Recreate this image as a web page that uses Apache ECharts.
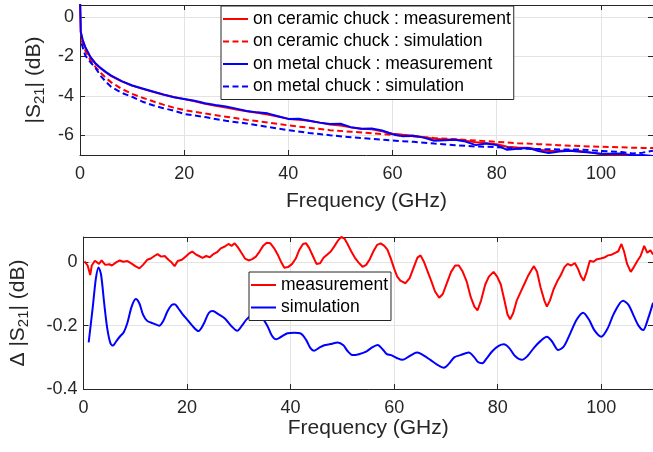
<!DOCTYPE html>
<html>
<head>
<meta charset="utf-8">
<script src="https://cdn.jsdelivr.net/npm/echarts@6/dist/echarts.min.js"></script>
<style>
html,body{margin:0;padding:0;background:#fff;}
#chart{width:653px;height:452px;}
</style>
</head>
<body>
<div id="chart"></div>
<script>
// ---------- data ----------
var seriesNamesTop = ['on ceramic chuck : measurement', 'on ceramic chuck : simulation', 'on metal chuck : measurement', 'on metal chuck : simulation'];
var seriesNamesBottom = ['measurement', 'simulation'];

var measFreq = [0, 0.15, 0.5, 1, 2, 3, 4, 5, 6, 8, 10, 12, 14, 16, 18, 20, 22, 24, 26, 28, 30, 32, 34, 36, 38, 40, 42, 44, 46, 48, 50, 52, 54, 56, 58, 60, 62, 64, 66, 68, 70, 72, 74, 76, 78, 80, 82, 84, 86, 88, 90, 92, 94, 96, 98, 100, 102, 104, 106, 108, 110];
var ceramicMeas = [1.0, -0.8, -1.2, -1.55, -2.05, -2.38, -2.62, -2.82, -3.0, -3.27, -3.48, -3.65, -3.8, -3.95, -4.06, -4.17, -4.28, -4.4, -4.5, -4.6, -4.7, -4.78, -4.86, -4.95, -5.05, -5.17, -5.22, -5.27, -5.36, -5.45, -5.5, -5.6, -5.67, -5.7, -5.8, -5.92, -5.98, -6.03, -6.1, -6.18, -6.22, -6.22, -6.28, -6.36, -6.4, -6.46, -6.58, -6.62, -6.63, -6.72, -6.8, -6.78, -6.77, -6.8, -6.88, -6.95, -6.97, -6.98, -7.0, -7.05, -7.08];
var metalMeas = [1.0, -0.75, -1.15, -1.52, -2.03, -2.37, -2.6, -2.8, -2.98, -3.26, -3.48, -3.63, -3.78, -3.93, -4.07, -4.16, -4.25, -4.38, -4.47, -4.54, -4.65, -4.77, -4.84, -4.89, -5.04, -5.17, -5.16, -5.26, -5.36, -5.43, -5.42, -5.59, -5.67, -5.66, -5.76, -5.95, -6.05, -6.02, -6.12, -6.28, -6.25, -6.23, -6.32, -6.5, -6.42, -6.5, -6.74, -6.68, -6.64, -6.8, -6.9, -6.82, -6.78, -6.83, -6.87, -6.94, -6.94, -6.93, -7.02, -7.0, -7.05];

var simFreq = [0.3, 1, 2, 3, 4, 5, 6, 8, 10, 12, 14, 16, 18, 20, 24, 28, 32, 36, 40, 44, 48, 52, 56, 60, 64, 68, 72, 76, 80, 84, 88, 92, 96, 100, 104, 106, 108, 110];
var ceramicSim = [-1.2, -1.7, -2.2, -2.55, -2.85, -3.1, -3.32, -3.65, -3.9, -4.1, -4.28, -4.45, -4.6, -4.72, -4.9, -5.06, -5.22, -5.35, -5.5, -5.62, -5.74, -5.82, -5.9, -5.98, -6.06, -6.14, -6.2, -6.27, -6.33, -6.4, -6.45, -6.5, -6.55, -6.58, -6.61, -6.63, -6.64, -6.65];
var metalSim = [-1.35, -1.95, -2.3, -2.6, -3.0, -3.3, -3.55, -3.85, -4.05, -4.3, -4.48, -4.63, -4.75, -4.92, -5.08, -5.27, -5.4, -5.58, -5.74, -5.88, -6.0, -6.1, -6.18, -6.27, -6.33, -6.42, -6.5, -6.57, -6.6, -6.68, -6.7, -6.72, -6.72, -6.8, -6.85, -6.92, -6.88, -6.78];

var deltaMeasFreq = [0.2, 0.8, 1.3, 1.6, 2.2, 3, 3.5, 4.2, 5, 5.5, 6.3, 7, 7.7, 8.5, 9.3, 10, 10.8, 11.5, 12.3, 13, 13.7, 14.3, 15, 15.7, 16.4, 17, 17.6, 18.2, 19, 19.7, 20.4, 21, 21.6, 22.3, 23, 23.7, 24.4, 25, 25.8, 26.5, 27.3, 28, 28.6, 29.2, 29.8, 30.5, 31.2, 31.9, 32.6, 33.3, 34, 34.7, 35.4, 36.1, 36.8, 37.5, 38.2, 38.8, 39.5, 40.3, 41, 41.7, 42.4, 43, 43.6, 44.3, 45, 45.7, 46.4, 47.1, 47.8, 48.5, 49.2, 49.8, 50.4, 51, 51.7, 52.4, 53.1, 53.9, 54.6, 55.3, 56, 56.7, 57.4, 58.1, 58.7, 59.3, 60, 60.6, 61.2, 62.2, 63, 63.8, 64.5, 65.1, 65.8, 66.5, 67.2, 67.9, 68.7, 69.4, 70.2, 71, 71.8, 72.5, 73.2, 74, 74.8, 75.5, 76.1, 76.8, 77.6, 78.3, 79.2, 79.9, 80.6, 81.3, 81.9, 82.4, 83, 83.7, 84.4, 85.1, 85.8, 86.5, 87, 87.6, 88.3, 89, 89.5, 90.1, 90.8, 91.5, 92.2, 92.9, 93.5, 94.2, 94.9, 95.5, 96.1, 96.6, 97.2, 97.8, 98.5, 99.2, 99.9, 100.6, 101.3, 102, 102.7, 103.3, 103.9, 104.4, 105, 105.7, 106.3, 107, 107.6, 108.3, 108.9, 109.5, 110];
var deltaMeas = [0.003, -0.01, -0.04, -0.01, 0.005, -0.005, 0.006, -0.008, -0.006, -0.01, 0.0, 0.006, 0.002, 0.004, -0.004, -0.012, -0.019, -0.008, 0.008, 0.012, 0.02, 0.026, 0.018, 0.02, 0.008, 0.0, -0.012, 0.004, 0.008, 0.018, 0.028, 0.034, 0.026, 0.02, 0.014, 0.02, 0.016, 0.025, 0.032, 0.044, 0.05, 0.058, 0.052, 0.06, 0.048, 0.03, 0.012, 0.006, 0.01, 0.018, 0.034, 0.052, 0.062, 0.06, 0.045, 0.025, 0.0, -0.017, -0.015, -0.005, 0.012, 0.04, 0.058, 0.06, 0.045, 0.02, -0.005, -0.003, 0.015, 0.025, 0.035, 0.052, 0.07, 0.08, 0.075, 0.058, 0.035, 0.015, 0.0, -0.014, -0.008, 0.01, 0.035, 0.055, 0.06, 0.052, 0.04, 0.015, -0.02, -0.045, -0.058, -0.066, -0.05, -0.015, 0.015, 0.022, 0.0, -0.03, -0.06, -0.092, -0.112, -0.1, -0.065, -0.03, -0.01, -0.01, -0.028, -0.06, -0.11, -0.14, -0.152, -0.12, -0.07, -0.045, -0.03, -0.045, -0.07, -0.12, -0.165, -0.18, -0.16, -0.12, -0.095, -0.07, -0.045, -0.025, -0.012, -0.03, -0.08, -0.12, -0.14, -0.12, -0.085, -0.06, -0.04, -0.015, -0.005, -0.01, -0.002, -0.02, -0.045, -0.058, -0.03, 0.005, 0.002, 0.01, 0.012, 0.015, 0.022, 0.024, 0.03, 0.035, 0.058, 0.035, -0.005, -0.03, -0.015, 0.005, 0.02, 0.052, 0.03, 0.038, 0.025];

var deltaSimFreq = [1, 1.8, 2.4, 2.9, 3.4, 4.0, 4.6, 5.2, 5.7, 6.3, 7, 7.8, 8.5, 9.3, 10.1, 10.8, 11.5, 12.3, 13, 13.8, 14.6, 15.4, 16.2, 17, 17.6, 18.3, 19.2, 20, 21, 22.2, 23.2, 24.2, 25, 25.9, 27.3, 28.5, 29.7, 30.6, 31.5, 32.4, 33.4, 34.3, 35.5, 36.4, 37.2, 38.2, 39.4, 40.7, 42, 43, 43.8, 44.5, 45.5, 46.5, 47.7, 49.1, 50.2, 51, 52, 53.2, 54.6, 55.6, 56.8, 57.8, 58.6, 59.4, 60.5, 61.6, 62.8, 63.8, 64.5, 65.5, 67, 68.3, 69.6, 70.6, 71.6, 72.8, 74.4, 75.5, 76.2, 77, 77.8, 79, 80.2, 81.2, 82.2, 83.3, 84.7, 85.8, 87, 88.3, 89.5, 90.5, 91.7, 92.8, 94, 95.3, 96.5, 97.6, 98.7, 100, 101.2, 102.5, 104.2, 105.3, 106.3, 107.2, 108.1, 109, 110];
var deltaSim = [-0.253, -0.14, -0.05, -0.016, -0.04, -0.13, -0.21, -0.255, -0.263, -0.25, -0.235, -0.22, -0.19, -0.14, -0.116, -0.13, -0.165, -0.185, -0.19, -0.195, -0.2, -0.185, -0.155, -0.135, -0.132, -0.145, -0.165, -0.18, -0.2, -0.217, -0.195, -0.16, -0.154, -0.162, -0.177, -0.2, -0.216, -0.2, -0.18, -0.169, -0.168, -0.172, -0.2, -0.232, -0.243, -0.235, -0.224, -0.222, -0.225, -0.245, -0.27, -0.279, -0.27, -0.262, -0.258, -0.253, -0.262, -0.28, -0.293, -0.29, -0.282, -0.27, -0.261, -0.275, -0.29, -0.293, -0.302, -0.308, -0.298, -0.288, -0.285, -0.292, -0.308, -0.323, -0.333, -0.32, -0.3, -0.293, -0.285, -0.3, -0.315, -0.319, -0.305, -0.28, -0.264, -0.259, -0.27, -0.295, -0.308, -0.295, -0.27, -0.248, -0.235, -0.25, -0.277, -0.265, -0.225, -0.18, -0.159, -0.18, -0.215, -0.235, -0.21, -0.16, -0.121, -0.135, -0.17, -0.2, -0.214, -0.18, -0.128];

var xRange = [0, 110];
var topYRange = [-7, 0.6];
var bottomYRange = [-0.4, 0.08];

// ---------- helpers ----------
function pairs(xs, ys) { return xs.map(function (x, i) { return [x, ys[i]]; }); }
var FONT = "'Liberation Sans', Arial, Helvetica, sans-serif";
var INK = '#262626';
var GRIDC = '#e3e3e3';
var ICON_SOLID = 'path://M0,0H25V2H0Z';
var ICON_DASH = 'path://M0,0H6V2H0Z M9.5,0H15.5V2H9.5Z M19,0H25V2H19Z';

function mainX(gi, gap) {
  return {
    type: 'value', gridIndex: gi, min: xRange[0], max: xRange[1], interval: 20,
    position: 'bottom',
    name: 'Frequency (GHz)', nameLocation: 'middle', nameGap: gap,
    nameTextStyle: { fontFamily: FONT, fontSize: 21, color: INK },
    axisLine: { show: true, onZero: false, lineStyle: { color: INK, width: 1 } },
    axisTick: { show: true, inside: true, length: 5, lineStyle: { color: INK } },
    axisLabel: { fontFamily: FONT, fontSize: 18, color: INK, margin: 10, showMaxLabel: false },
    splitLine: { show: true, lineStyle: { color: GRIDC, width: 1 } }
  };
}
function mirrorX(gi) {
  return {
    type: 'value', gridIndex: gi, min: xRange[0], max: xRange[1], interval: 20,
    position: 'top',
    axisLine: { show: true, onZero: false, lineStyle: { color: INK, width: 1 } },
    axisTick: { show: true, inside: true, length: 5, lineStyle: { color: INK } },
    axisLabel: { show: false }, splitLine: { show: false }
  };
}
function mainY(gi, range, name, gap, interval) {
  var ax = {
    type: 'value', gridIndex: gi, min: range[0], max: range[1],
    position: 'left',
    name: name, nameLocation: 'middle', nameGap: gap,
    nameTextStyle: {
      fontFamily: FONT, fontSize: 21, color: INK,
      rich: {
        a: { fontFamily: FONT, fontSize: 21, color: INK },
        sub: { fontFamily: FONT, fontSize: 15, color: INK, verticalAlign: 'bottom', padding: [11, 0, 0, 0] }
      }
    },
    axisLine: { show: true, onZero: false, lineStyle: { color: INK, width: 1 } },
    axisTick: { show: true, inside: true, length: 5, lineStyle: { color: INK } },
    axisLabel: { fontFamily: FONT, fontSize: 18, color: INK, margin: 6, showMinLabel: interval ? true : false, showMaxLabel: false },
    splitLine: { show: true, lineStyle: { color: GRIDC, width: 1 } }
  };
  if (interval) ax.interval = interval;
  return ax;
}
function mirrorY(gi, range, interval) {
  var ax = {
    type: 'value', gridIndex: gi, min: range[0], max: range[1],
    position: 'right',
    axisLine: { show: true, onZero: false, lineStyle: { color: INK, width: 1 } },
    axisTick: { show: true, inside: true, length: 5, lineStyle: { color: INK } },
    axisLabel: { show: false }, splitLine: { show: false }
  };
  if (interval) ax.interval = interval;
  return ax;
}
function line(name, data, xi, yi, color, dashed, smooth) {
  return {
    type: 'line', name: name, data: data, xAxisIndex: xi, yAxisIndex: yi,
    showSymbol: false, symbol: 'none', smooth: smooth || false, clip: true,
    lineStyle: { color: color, width: 2, type: dashed ? [6, 3.5] : 'solid' },
    itemStyle: { color: color },
    animation: false, z: 3
  };
}
function legendData(names, dashedFlags) {
  return names.map(function (n, i) { return { name: n, icon: dashedFlags[i] ? ICON_DASH : ICON_SOLID }; });
}

var chart = echarts.init(document.getElementById('chart'), null, { renderer: 'canvas' });
chart.setOption({
  backgroundColor: '#ffffff',
  animation: false,
  grid: [
    { left: 80, top: 5, width: 574, height: 150, containLabel: false },
    { left: 80, top: 237, width: 574, height: 152, containLabel: false }
  ],
  xAxis: [mainX(0, 36), mirrorX(0), mainX(1, 28), mirrorX(1)],
  yAxis: [
    mainY(0, topYRange, '{a||S}{sub|21}{a|| (dB)}', 32, null),
    mirrorY(0, topYRange, null),
    mainY(1, bottomYRange, '{a|Δ |S}{sub|21}{a|| (dB)}', 52, 0.2),
    mirrorY(1, bottomYRange, 0.2)
  ],
  legend: [
    {
      data: legendData(seriesNamesTop, [false, true, false, true]), orient: 'vertical', left: 221, top: 6,
      itemWidth: 25, itemHeight: 2, itemGap: 4.5, padding: [4, 3, 4, 2],
      backgroundColor: '#ffffff', borderColor: INK, borderWidth: 1, borderRadius: 0,
      textStyle: { fontFamily: FONT, fontSize: 17.5, color: '#000' },
      selectedMode: false
    },
    {
      data: legendData(seriesNamesBottom, [false, false]), orient: 'vertical', left: 249, top: 272,
      itemWidth: 25, itemHeight: 2, itemGap: 4.5, padding: [4, 3, 4, 2],
      backgroundColor: '#ffffff', borderColor: INK, borderWidth: 1, borderRadius: 0,
      textStyle: { fontFamily: FONT, fontSize: 17.5, color: '#000' },
      selectedMode: false
    }
  ],
  series: [
    line(seriesNamesTop[0], pairs(measFreq, ceramicMeas), 0, 0, '#ff0000', false),
    line(seriesNamesTop[1], pairs(simFreq, ceramicSim), 0, 0, '#ff0000', true),
    line(seriesNamesTop[2], pairs(measFreq, metalMeas), 0, 0, '#0000ff', false),
    line(seriesNamesTop[3], pairs(simFreq, metalSim), 0, 0, '#0000ff', true),
    line(seriesNamesBottom[0], pairs(deltaMeasFreq, deltaMeas), 2, 2, '#ff0000', false),
    line(seriesNamesBottom[1], pairs(deltaSimFreq, deltaSim), 2, 2, '#0000ff', false, 0.3)
  ]
});
</script>
</body>
</html>
